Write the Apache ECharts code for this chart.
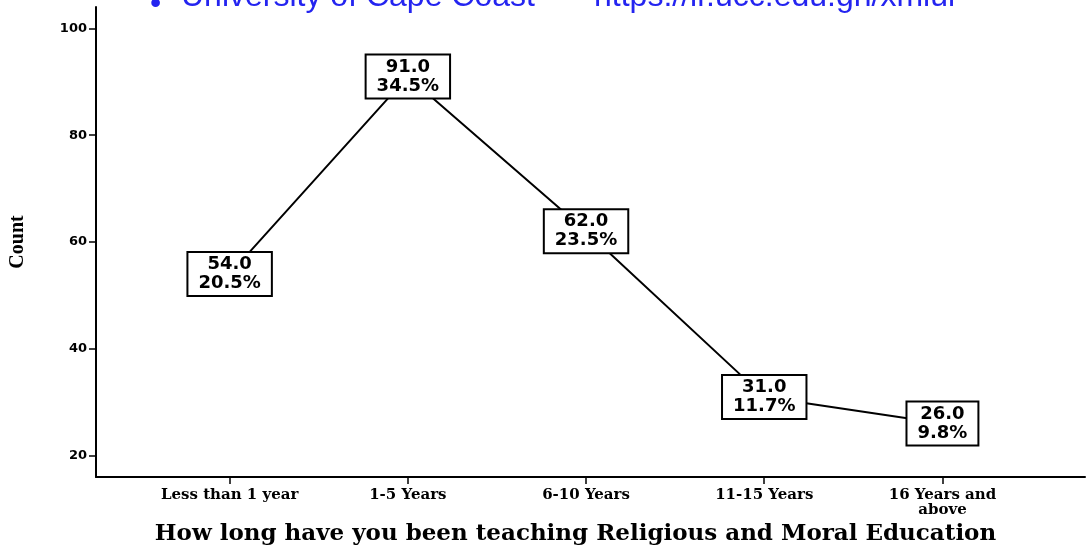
<!DOCTYPE html>
<html>
<head>
<meta charset="utf-8">
<script src="https://cdn.jsdelivr.net/npm/echarts@6/dist/echarts.min.js"></script>
<style>
  html, body { margin: 0; padding: 0; background: #fff; }
  #chart { width: 1088px; height: 556px; }
</style>
</head>
<body>
<div id="chart"></div>
<script>
const categories = ["Less than 1 year", "1-5 Years", "6-10 Years", "11-15 Years", "16 Years and\nabove"];
const counts = [54.0, 91.0, 62.0, 31.0, 26.0];
const percents = [20.5, 34.5, 23.5, 11.7, 9.8];
const yTicks = [20, 40, 60, 80, 100];
const xTicks = [0, 1, 2, 3, 4];

const chart = echarts.init(document.getElementById("chart"), null, { renderer: "canvas" });

const points = counts.map((c, i) => [i, c]);
const markFont = "32px 'Liberation Sans'";

chart.setOption({
  animation: false,
  backgroundColor: "#fff",
  grid: { left: 92, right: 3, top: 7, bottom: 79 },
  graphic: [
    { type: "text", left: 150, top: -12, style: { text: "\u2022", font: markFont, fill: "#2424f0" } },
    { type: "text", left: 181, top: -19, style: { text: "University of Cape Coast", font: markFont, fill: "#2424f0" } },
    { type: "text", left: 594, top: -19, style: { text: "https://ir.ucc.edu.gh/xmlui", font: markFont, fill: "#2424f0" } },
  ],
  xAxis: {
    type: "value",
    min: -0.75,
    max: 4.8,
    splitLine: { show: false },
    axisLine: { show: true, onZero: false, lineStyle: { color: "#000", width: 2 } },
    axisTick: {
      show: true,
      customValues: xTicks,
      length: 7,
      lineStyle: { color: "#000", width: 1.5 },
    },
    axisLabel: {
      customValues: xTicks,
      margin: 11,
      formatter: (v) => categories[v] || "",
      color: "#000",
      fontFamily: "DejaVu Serif",
      fontWeight: "bold",
      fontSize: 15,
      lineHeight: 15,
    },
    name: "How long have you been teaching Religious and Moral Education",
    nameLocation: "middle",
    nameGap: 42,
    nameTextStyle: {
      color: "#000",
      fontFamily: "DejaVu Serif",
      fontWeight: "bold",
      fontSize: 23,
      padding: [0, 30, 0, 0],
    },
  },
  yAxis: {
    type: "value",
    min: 16,
    max: 104,
    splitLine: { show: false },
    axisLine: { show: true, onZero: false, lineStyle: { color: "#000", width: 2 } },
    axisTick: {
      show: true,
      customValues: yTicks,
      length: 7,
      lineStyle: { color: "#000", width: 1.5 },
    },
    axisLabel: {
      customValues: yTicks,
      margin: 9,
      color: "#000",
      fontFamily: "DejaVu Sans",
      fontWeight: "bold",
      fontSize: 13,
    },
    name: "Count",
    nameLocation: "middle",
    nameGap: 68,
    nameTextStyle: {
      color: "#000",
      fontFamily: "Liberation Serif",
      fontWeight: "bold",
      fontSize: 20,
    },
  },
  series: [
    {
      type: "line",
      data: points,
      symbol: "circle",
      symbolSize: 2,
      itemStyle: { color: "#000" },
      lineStyle: { color: "#000", width: 2 },
      label: {
        show: true,
        position: "inside",
        formatter: (p) => counts[p.dataIndex].toFixed(1) + "\n" + percents[p.dataIndex].toFixed(1) + "%",
        color: "#000",
        fontFamily: "DejaVu Sans",
        fontWeight: "bold",
        fontSize: 18,
        lineHeight: 19,
        align: "center",
        backgroundColor: "#fff",
        borderColor: "#000",
        borderWidth: 2,
        padding: [2, 10],
      },
    },
  ],
});
</script>
</body>
</html>
